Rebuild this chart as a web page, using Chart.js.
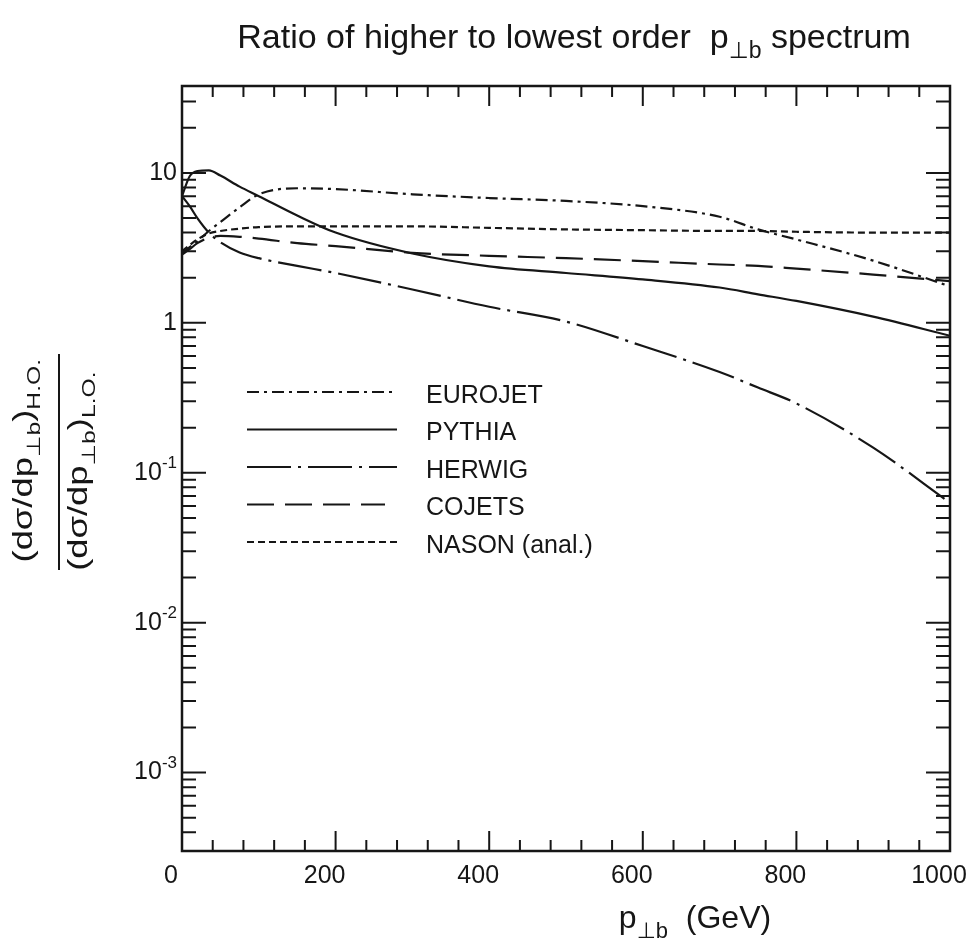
<!DOCTYPE html>
<html>
<head>
<meta charset="utf-8">
<script src="https://cdn.jsdelivr.net/npm/chart.js@4/dist/chart.umd.min.js"></script>
<style>
  html, body { margin: 0; padding: 0; background: #fff; }
  #wrap { width: 968px; height: 951px; position: relative; }
</style>
</head>
<body>
<div id="wrap"><canvas id="c" width="968" height="951"></canvas></div>
<script>
// p_T,b grid (GeV) and ratios
const pT = [0, 10, 20, 35, 50, 75, 100, 150, 200, 300, 400, 500, 600, 700, 750, 800, 900, 1000];
const eurojet = [2.9, 3.2, 3.5, 4.1, 4.7, 5.9, 7.2, 7.9, 7.8, 7.2, 6.8, 6.5, 6.0, 5.1, 4.2, 3.6, 2.6, 1.75];
const pythia = [7.0, 9.5, 10.3, 10.4, 9.6, 8.1, 7.0, 5.2, 4.0, 2.9, 2.38, 2.15, 1.95, 1.72, 1.55, 1.4, 1.1, 0.82];
const herwig = [7.0, 6.0, 5.0, 4.0, 3.45, 2.95, 2.7, 2.4, 2.15, 1.67, 1.28, 1.02, 0.70, 0.47, 0.37, 0.29, 0.147, 0.063];
const cojets = [2.85, 3.1, 3.4, 3.7, 3.8, 3.75, 3.65, 3.4, 3.25, 2.93, 2.8, 2.7, 2.58, 2.45, 2.4, 2.3, 2.1, 1.9];
const nason = [3.0, 3.3, 3.6, 3.95, 4.1, 4.25, 4.35, 4.4, 4.4, 4.4, 4.3, 4.2, 4.15, 4.1, 4.1, 4.05, 4.0, 4.0];

const seriesNames = ['EUROJET', 'PYTHIA', 'HERWIG', 'COJETS', 'NASON (anal.)'];
const xTickLabels = [0, 200, 400, 600, 800, 1000];
const yTickExps = [1, 0, -1, -2, -3];

const FONT = '"Liberation Sans", Arial, Helvetica, "DejaVu Sans", sans-serif';
const INK = '#161616';

const dashes = [[12, 5, 3, 5], [], [44, 7, 3, 7], [27, 11], [7, 4]];
const values = [eurojet, pythia, herwig, cojets, nason];

function ds(i) {
  return {
    label: seriesNames[i],
    data: pT.map((x, k) => ({ x, y: values[i][k] })),
    borderColor: INK,
    borderWidth: 2.2,
    borderDash: dashes[i],
    pointRadius: 0,
    fill: false,
    cubicInterpolationMode: 'monotone',
  };
}

// text with sub/superscripts; parts: [text, size, dy]
function rich(ctx, parts, x, y, align) {
  let w = 0;
  parts.forEach(p => { ctx.font = p[1] + 'px ' + FONT; w += ctx.measureText(p[0]).width; });
  let cx = align === 'right' ? x - w : align === 'center' ? x - w / 2 : x;
  ctx.textAlign = 'left';
  parts.forEach(p => {
    ctx.font = p[1] + 'px ' + FONT;
    ctx.fillText(p[0], cx, y + (p[2] || 0));
    cx += ctx.measureText(p[0]).width;
  });
}

const decor = {
  id: 'decor',
  afterDraw(chart) {
    const { ctx, chartArea: a, scales } = chart;
    const xs = scales.x, ys = scales.y;
    ctx.save();
    ctx.strokeStyle = INK;
    ctx.fillStyle = INK;

    // frame
    ctx.lineWidth = 2.5;
    ctx.strokeRect(a.left, a.top, a.right - a.left, a.bottom - a.top);

    // x ticks, every 40, long at 200s
    ctx.lineWidth = 2;
    ctx.beginPath();
    for (let v = 40; v < 1000; v += 40) {
      const px = xs.getPixelForValue(v);
      const len = v % 200 === 0 ? 20 : 11;
      ctx.moveTo(px, a.bottom); ctx.lineTo(px, a.bottom - len);
      ctx.moveTo(px, a.top); ctx.lineTo(px, a.top + len);
    }
    // y ticks, log minor
    for (let e = -4; e <= 1; e++) {
      for (let m = 1; m <= 9; m++) {
        const v = m * Math.pow(10, e);
        if (v <= ys.min || v >= ys.max) continue;
        const py = ys.getPixelForValue(v);
        const len = m === 1 ? 24 : 14;
        ctx.moveTo(a.left, py); ctx.lineTo(a.left + len, py);
        ctx.moveTo(a.right, py); ctx.lineTo(a.right - len, py);
      }
    }
    ctx.stroke();

    // tick labels
    ctx.textBaseline = 'middle';
    xTickLabels.forEach(v => {
      rich(ctx, [[String(v), 25]], xs.getPixelForValue(v) - 11, a.bottom + 25, 'center');
    });
    yTickExps.forEach(e => {
      const py = ys.getPixelForValue(Math.pow(10, e));
      if (e === 1) rich(ctx, [['10', 25]], a.left - 5, py, 'right');
      else if (e === 0) rich(ctx, [['1', 25]], a.left - 5, py, 'right');
      else rich(ctx, [['10', 25], [String(e), 17, -9]], a.left - 5, py, 'right');
    });

    // title
    ctx.textBaseline = 'alphabetic';
    rich(ctx, [['Ratio of higher to lowest order  p', 34], ['\u22A5b', 23, 10], [' spectrum', 34]], 574, 48, 'center');

    // x axis title
    rich(ctx, [['p', 32], ['\u22A5b', 22, 10], ['  (GeV)', 32]], 695, 928, 'center');

    // y axis title: rotated fraction, glyphs stretched along the text
    ctx.save();
    ctx.translate(59, 462);
    ctx.rotate(-Math.PI / 2);
    ctx.lineWidth = 2;
    ctx.beginPath();
    ctx.moveTo(-108, 0); ctx.lineTo(108, 0);
    ctx.stroke();
    ctx.scale(1.3, 1);
    rich(ctx, [['(d\u03C3/dp', 28], ['\u22A5b', 19, 8], [')', 28], ['H.O.', 19, 8]], 1, -27, 'center');
    rich(ctx, [['(d\u03C3/dp', 28], ['\u22A5b', 19, 8], [')', 28], ['L.O.', 19, 8]], -7, 28, 'center');
    ctx.restore();

    // legend
    const lx0 = 247, lx1 = 397, ly0 = 392, step = 37.5;
    chart.data.datasets.forEach((d, i) => {
      const y = ly0 + i * step;
      ctx.lineWidth = 2.2;
      ctx.setLineDash(d.borderDash);
      ctx.beginPath();
      ctx.moveTo(lx0, y); ctx.lineTo(i === 3 ? 385 : lx1, y);
      ctx.stroke();
      ctx.setLineDash([]);
      ctx.textBaseline = 'middle';
      rich(ctx, [[d.label, 25]], 426, y + 4, 'left');
    });
    ctx.restore();
  }
};

new Chart(document.getElementById('c'), {
  type: 'line',
  data: { datasets: [0, 1, 2, 3, 4].map(ds) },
  options: {
    responsive: false,
    animation: false,
    layout: { padding: { left: 182, right: 18, top: 86, bottom: 100 } },
    plugins: { legend: { display: false }, title: { display: false }, tooltip: { enabled: false } },
    scales: {
      x: { type: 'linear', min: 0, max: 1000, display: false },
      y: { type: 'logarithmic', min: 3e-4, max: 38, display: false },
    },
  },
  plugins: [decor],
});
</script>
</body>
</html>
